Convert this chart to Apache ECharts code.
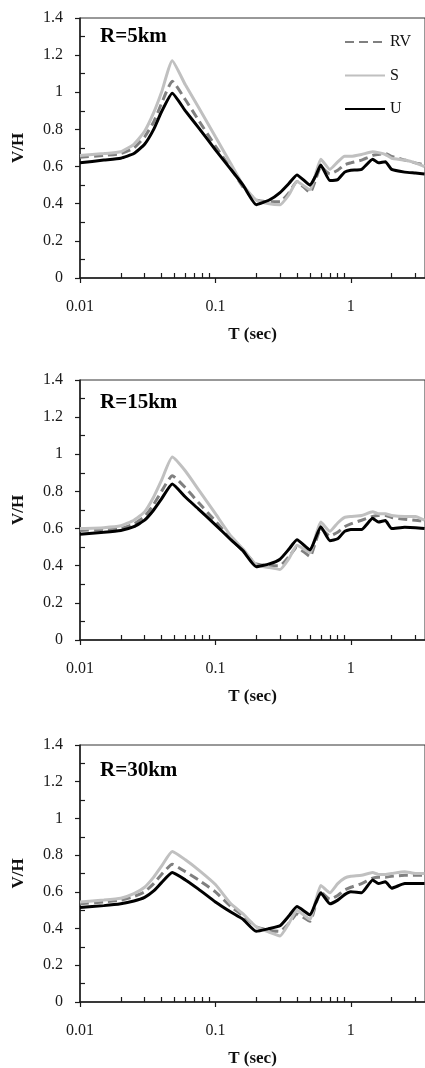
<!DOCTYPE html>
<html>
<head>
<meta charset="utf-8">
<script src="https://cdn.jsdelivr.net/npm/echarts@6/dist/echarts.min.js"></script>
<style>
  html, body { margin: 0; padding: 0; background: #fff; }
  #chart { width: 425px; height: 1068px; }
</style>
</head>
<body>
<div id="chart"></div>
<script>
// Spectral period (s) shared by every curve
const periods = [0.01, 0.015, 0.02, 0.025, 0.03, 0.035, 0.04, 0.048, 0.06, 0.075,
  0.1, 0.13, 0.16, 0.2, 0.25, 0.3, 0.35, 0.4, 0.5, 0.55,
  0.6, 0.7, 0.8, 0.9, 1.0, 1.2, 1.45, 1.6, 1.8, 2.0,
  2.5, 3.0, 3.5];

// V/H ratios, R = 5 km
const rv5 = [0.65, 0.66, 0.67, 0.70, 0.76, 0.84, 0.94, 1.06, 0.96, 0.85,
  0.71, 0.59, 0.49, 0.42, 0.41, 0.41, 0.46, 0.52, 0.46, 0.53,
  0.60, 0.56, 0.58, 0.61, 0.62, 0.635, 0.66, 0.665, 0.67, 0.655,
  0.635, 0.62, 0.61];
const s5 = [0.66, 0.67, 0.68, 0.72, 0.79, 0.89, 1.00, 1.17, 1.04, 0.92,
  0.76, 0.615, 0.50, 0.42, 0.40, 0.395, 0.45, 0.52, 0.475, 0.56,
  0.64, 0.585, 0.625, 0.655, 0.655, 0.665, 0.68, 0.675, 0.665, 0.645,
  0.635, 0.62, 0.60];
const u5 = [0.62, 0.635, 0.645, 0.67, 0.72, 0.80, 0.895, 0.995, 0.90, 0.81,
  0.69, 0.585, 0.50, 0.395, 0.42, 0.46, 0.51, 0.555, 0.50, 0.55,
  0.608, 0.525, 0.53, 0.57, 0.58, 0.585, 0.64, 0.62, 0.626, 0.585,
  0.57, 0.565, 0.56];

// V/H ratios, R = 15 km
const rv15 = [0.59, 0.595, 0.60, 0.625, 0.665, 0.73, 0.80, 0.885, 0.82, 0.74,
  0.64, 0.545, 0.48, 0.41, 0.40, 0.40, 0.45, 0.50, 0.45, 0.53,
  0.60, 0.56, 0.58, 0.61, 0.625, 0.645, 0.665, 0.67, 0.67, 0.66,
  0.65, 0.645, 0.64];
const s15 = [0.60, 0.605, 0.615, 0.645, 0.69, 0.77, 0.86, 0.985, 0.91, 0.81,
  0.68, 0.56, 0.49, 0.405, 0.39, 0.38, 0.44, 0.51, 0.47, 0.56,
  0.635, 0.585, 0.63, 0.66, 0.665, 0.67, 0.69, 0.68, 0.68, 0.67,
  0.665, 0.665, 0.645];
const u15 = [0.57, 0.58, 0.59, 0.61, 0.645, 0.70, 0.76, 0.84, 0.77, 0.705,
  0.62, 0.54, 0.48, 0.395, 0.41, 0.435, 0.49, 0.54, 0.485, 0.55,
  0.61, 0.535, 0.545, 0.585, 0.595, 0.595, 0.655, 0.635, 0.643, 0.60,
  0.607, 0.605, 0.60];

// V/H ratios, R = 30 km
const rv30 = [0.535, 0.545, 0.555, 0.575, 0.60, 0.645, 0.695, 0.75, 0.71, 0.665,
  0.60, 0.52, 0.47, 0.41, 0.39, 0.385, 0.43, 0.48, 0.44, 0.53,
  0.60, 0.56, 0.58, 0.61, 0.625, 0.645, 0.675, 0.68, 0.68, 0.685,
  0.69, 0.69, 0.69];
const s30 = [0.545, 0.555, 0.565, 0.59, 0.625, 0.68, 0.74, 0.82, 0.775, 0.72,
  0.64, 0.535, 0.48, 0.41, 0.38, 0.36, 0.43, 0.50, 0.45, 0.55,
  0.635, 0.595, 0.645, 0.675, 0.685, 0.69, 0.705, 0.695, 0.695, 0.70,
  0.71, 0.70, 0.70];
const u30 = [0.515, 0.525, 0.535, 0.55, 0.57, 0.605, 0.65, 0.705, 0.665, 0.615,
  0.545, 0.49, 0.45, 0.385, 0.40, 0.415, 0.47, 0.52, 0.475, 0.54,
  0.595, 0.535, 0.555, 0.585, 0.60, 0.595, 0.665, 0.645, 0.655, 0.62,
  0.645, 0.645, 0.645];

const panelTitles = ['R=5km', 'R=15km', 'R=30km'];
const seriesNames = ['RV', 'S', 'U'];
const panelData = [[rv5, s5, u5], [rv15, s15, u15], [rv30, s30, u30]];

// Axis ticks
const xMajorTicks = [0.01, 0.1, 1];
const xMinorTicks = [0.02, 0.03, 0.04, 0.05, 0.06, 0.07, 0.08, 0.09,
  0.2, 0.3, 0.4, 0.5, 0.6, 0.7, 0.8, 0.9, 2, 3];
const yMinorTicks = [0.1, 0.3, 0.5, 0.7, 0.9, 1.1, 1.3];

// Layout
const FONT = "'Liberation Serif', 'Times New Roman', serif";
const gridTops = [18, 380, 745];
const titleTops = [26, 392, 760];
const GRID_LEFT = 80, GRID_W = 347, GRID_H = 260;
const X_MIN = 0.01, X_MAX = 3.53;

const lineStyles = {
  RV: { color: '#808080', width: 3, type: [9, 5] },
  S:  { color: '#c0c0c0', width: 3, type: 'solid' },
  U:  { color: '#000000', width: 3, type: 'solid' }
};

const axisColor = '#1a1a1a';
const labelStyle = { fontFamily: FONT, fontSize: 16, color: '#1a1a1a' };
const fmtNum = v => String(+(+v).toPrecision(3));

const grid = [], xAxis = [], yAxis = [], series = [], title = [];

gridTops.forEach((top, i) => {
  grid.push({
    left: GRID_LEFT, top: top, width: GRID_W, height: GRID_H,
    show: true, borderColor: '#333', borderWidth: 1, backgroundColor: 'transparent'
  });
  title.push({
    text: panelTitles[i], left: 100, top: titleTops[i], padding: 0,
    textStyle: { fontFamily: FONT, fontWeight: 'bold', fontSize: 21, color: '#000' }
  });
  // main period axis: decade ticks outward, labels
  xAxis.push({
    type: 'log', logBase: 10, gridIndex: i, position: 'bottom',
    min: X_MIN, max: X_MAX,
    axisLine: { show: true, onZero: false, lineStyle: { color: axisColor, width: 1.5 } },
    axisTick: { show: true, inside: false, length: 5, customValues: xMajorTicks,
      lineStyle: { color: axisColor, width: 1.2 } },
    axisLabel: { show: true, customValues: xMajorTicks, formatter: fmtNum, margin: 21, ...labelStyle },
    splitLine: { show: false },
    minorTick: { show: false },
    name: 'T (sec)', nameLocation: 'middle', nameGap: 48,
    nameTextStyle: { fontFamily: FONT, fontWeight: 'bold', fontSize: 17, color: '#111' }
  });
  // intermediate period ticks, pointing inward
  xAxis.push({
    type: 'log', logBase: 10, gridIndex: i, position: 'bottom',
    min: X_MIN, max: X_MAX,
    axisLine: { show: false },
    axisTick: { show: true, inside: true, length: 5, customValues: xMinorTicks,
      lineStyle: { color: axisColor, width: 1.2 } },
    axisLabel: { show: false },
    splitLine: { show: false }
  });
  yAxis.push({
    type: 'value', gridIndex: i, position: 'left',
    min: 0, max: 1.4, interval: 0.2,
    axisLine: { show: true, onZero: false, lineStyle: { color: axisColor, width: 1.5 } },
    axisTick: { show: true, inside: false, length: 5, lineStyle: { color: axisColor, width: 1.2 } },
    axisLabel: { margin: 17, formatter: fmtNum, ...labelStyle },
    splitLine: { show: false },
    name: 'V/H', nameLocation: 'middle', nameGap: 53,
    nameTextStyle: { fontFamily: FONT, fontWeight: 'bold', fontSize: 17, color: '#111' }
  });
  yAxis.push({
    type: 'value', gridIndex: i, position: 'left',
    min: 0, max: 1.4, interval: 0.2,
    axisLine: { show: false },
    axisTick: { show: true, inside: true, length: 5, customValues: yMinorTicks,
      lineStyle: { color: axisColor, width: 1.2 } },
    axisLabel: { show: false },
    splitLine: { show: false }
  });

  seriesNames.forEach((name, k) => {
    const vals = panelData[i][k];
    series.push({
      type: 'line', name: name,
      xAxisIndex: 2 * i, yAxisIndex: 2 * i,
      data: periods.map((t, j) => [t, vals[j]]),
      symbol: 'none', smooth: 0.15,
      lineStyle: lineStyles[name],
      itemStyle: { color: lineStyles[name].color },
      z: 2 + k
    });
  });
});

const chart = echarts.init(document.getElementById('chart'), null, { renderer: 'canvas' });
chart.setOption({
  animation: false,
  backgroundColor: '#fff',
  title: title,
  legend: {
    data: seriesNames, orient: 'vertical', left: 344, top: 34, padding: 0,
    itemWidth: 40, itemHeight: 14, itemGap: 17.5,
    itemStyle: { opacity: 0 },
    textStyle: { fontFamily: FONT, fontSize: 16, color: '#111' }
  },
  grid: grid,
  xAxis: xAxis,
  yAxis: yAxis,
  series: series
});
</script>
</body>
</html>
